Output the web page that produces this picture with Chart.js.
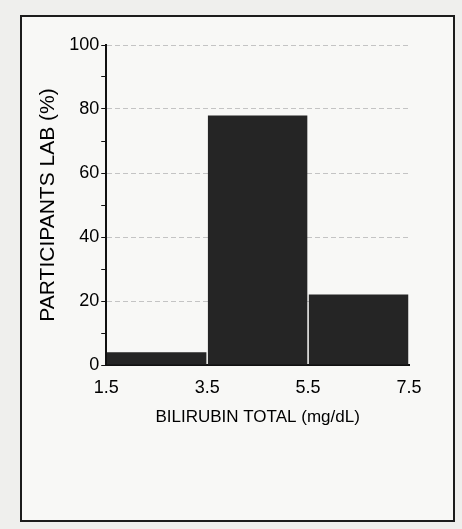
<!DOCTYPE html>
<html lang="en">

<head>
    <meta charset="UTF-8">
    <title>Bilirubin total histogram</title>
    <script src="https://cdn.jsdelivr.net/npm/chart.js"></script>
    <style>
        body {
            margin: 0;
            background: #efefed;
        }

        #frame {
            position: absolute;
            left: 20px;
            top: 15px;
            width: 431px;
            height: 503px;
            border: 2px solid #1c1c1c;
            background: #f8f8f6;
        }
    </style>
</head>

<body>
    <div id="frame">
        <canvas id="myChart"></canvas>
    </div>

    <script>
        // histogram bins (mg/dL) and share of participant labs
        const binEdges = [1.5, 3.5, 5.5, 7.5];
        const binCenters = [2.5, 4.5, 6.5];
        const percentValues = [4, 78, 22];
        const yTickLabels = [0, 20, 40, 60, 80, 100];

        const fontFace = '"Liberation Sans", Arial, sans-serif';

        const ctx = document.getElementById('myChart');

        new Chart(ctx, {
            type: 'bar',
            data: {
                datasets: [{
                    data: binCenters.map((x, i) => ({ x: x, y: percentValues[i] })),
                    backgroundColor: '#252525',
                    borderWidth: 0,
                    barPercentage: 0.985,
                    categoryPercentage: 1
                }]
            },
            options: {
                responsive: true,
                maintainAspectRatio: false,
                animation: false,
                layout: {
                    padding: { left: 10, right: 44, top: 28, bottom: 88 }
                },
                plugins: {
                    legend: { display: false },
                    tooltip: { enabled: false }
                },
                scales: {
                    x: {
                        type: 'linear',
                        offset: false,
                        min: binEdges[0],
                        max: binEdges[binEdges.length - 1],
                        afterBuildTicks: (scale) => {
                            scale.ticks = binEdges.map(v => ({ value: v }));
                        },
                        grid: { display: false },
                        border: { color: '#111', width: 2 },
                        ticks: {
                            color: '#000',
                            font: { family: fontFace, size: 18 },
                            padding: 4,
                            maxRotation: 0,
                            callback: (v) => v.toFixed(1)
                        },
                        title: {
                            display: true,
                            text: 'BILIRUBIN TOTAL (mg/dL)',
                            color: '#000',
                            font: { family: fontFace, size: 17 },
                            padding: { top: 5 }
                        }
                    },
                    y: {
                        min: 0,
                        max: 100,
                        ticks: {
                            stepSize: 10,
                            color: '#000',
                            font: { family: fontFace, size: 18 },
                            padding: 2,
                            callback: (v) => yTickLabels.includes(v) ? v : ''
                        },
                        grid: {
                            color: (c) => (c.tick && c.tick.value > 0 && c.tick.value % 20 === 0) ? '#c4c4c4' : 'transparent',
                            tickColor: '#111',
                            tickLength: 5,
                            lineWidth: 1
                        },
                        border: { color: '#111', width: 2, dash: [5, 3] },
                        title: {
                            display: true,
                            text: 'PARTICIPANTS LAB (%)',
                            color: '#000',
                            font: { family: fontFace, size: 21 },
                            padding: { bottom: 6 }
                        }
                    }
                }
            }
        });
    </script>
</body>

</html>
